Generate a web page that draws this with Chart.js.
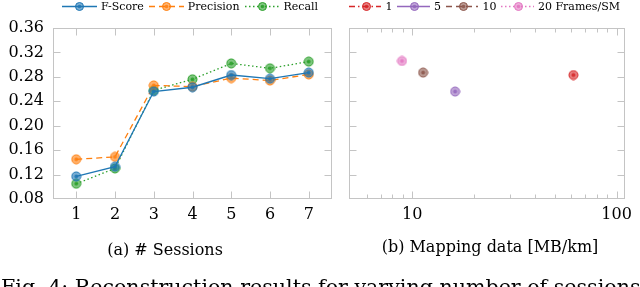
<!DOCTYPE html>
<html><head><meta charset="utf-8">
<script src="https://cdn.jsdelivr.net/npm/chart.js@4"></script>
<style>
html,body{margin:0;padding:0;background:#fff;width:640px;height:287px;overflow:hidden;font-family:"DejaVu Serif",serif;color:#000;}
canvas{position:absolute;top:0}
#c1{left:0}
#c2{left:340px}
.legend{position:absolute;top:0;height:13px;display:flex;justify-content:center;align-items:center;font-size:11px;white-space:nowrap;line-height:13px}
.legend svg{margin-right:4px;display:block}
.legend span{margin-right:5px}
.cap{position:absolute;font-size:16px;line-height:16px;white-space:nowrap;transform:translateX(-50%)}
#fig{position:absolute;left:1px;top:277px;font-size:20.6px;line-height:20px;white-space:nowrap}
</style></head>
<body>
<canvas id="c1" width="340" height="287"></canvas>
<canvas id="c2" width="300" height="287"></canvas>
<div class="legend" id="leg1" style="left:53px;width:279px"></div>
<div class="legend" id="leg2" style="left:349px;width:276px"></div>
<div class="cap" style="left:165px;top:242px">(a) # Sessions</div>
<div class="cap" style="left:490px;top:239px">(b) Mapping data [MB/km]</div>
<div id="fig">Fig. 4: Reconstruction results for varying number of sessions</div>
<script>
// ---- data ----
const sessions = [1, 2, 3, 4, 5, 6, 7];
const fScore    = [0.117, 0.133, 0.256, 0.263, 0.283, 0.277, 0.287];
const precision = [0.145, 0.149, 0.266, 0.264, 0.278, 0.274, 0.284];
const recall    = [0.105, 0.130, 0.258, 0.276, 0.302, 0.294, 0.305];
const seriesNames = ['F-Score', 'Precision', 'Recall'];

const frameLabels = ['1', '5', '10', '20 Frames/SM'];
const mappingData = [61.5, 16.2, 11.3, 8.9];     // MB/km
const mappingScore = [0.283, 0.256, 0.287, 0.306];

const yTicks = [0.08, 0.12, 0.16, 0.20, 0.24, 0.28, 0.32, 0.36];

// ---- styles ----
const leftStyles = [
  {color:'#1f77b4', dash:[]},
  {color:'#ff7f0e', dash:[6,4]},
  {color:'#2ca02c', dash:[1.5,2.5]}
];
const rightStyles = [
  {color:'#d62728', dash:[6,3,1.5,3]},
  {color:'#9467bd', dash:[]},
  {color:'#8c564b', dash:[6,4]},
  {color:'#e377c2', dash:[1.5,2.5]}
];

function rgba(hex, a){
  const n = parseInt(hex.slice(1),16);
  return `rgba(${(n>>16)&255},${(n>>8)&255},${n&255},${a})`;
}
function marker(color){
  const c = document.createElement('canvas');
  c.width = 11; c.height = 11;
  const x = c.getContext('2d');
  x.beginPath(); x.arc(5.5,5.5,4.5,0,Math.PI*2);
  x.fillStyle = rgba(color,0.6); x.fill();
  x.lineWidth = 1; x.strokeStyle = color; x.stroke();
  x.beginPath(); x.arc(5.5,5.5,2,0,Math.PI*2);
  x.fillStyle = rgba(color,0.85); x.fill();
  return c;
}
function legendSvg(st){
  const d = st.dash.length ? `stroke-dasharray="${st.dash.join(' ')}"` : '';
  return `<svg width="35" height="11"><line x1="0" y1="5.5" x2="35" y2="5.5" stroke="${st.color}" stroke-width="1.3" ${d}/>`+
    `<circle cx="17.5" cy="5.5" r="4" fill="${rgba(st.color,0.6)}" stroke="${st.color}" stroke-width="1"/>`+
    `<circle cx="17.5" cy="5.5" r="1.8" fill="${rgba(st.color,0.85)}"/></svg>`;
}
document.getElementById('leg1').innerHTML = seriesNames.map((n,i)=>legendSvg(leftStyles[i])+`<span>${n}</span>`).join('');
document.getElementById('leg2').innerHTML = frameLabels.map((n,i)=>legendSvg(rightStyles[i])+`<span>${n}</span>`).join('');

const FONT = {family:'"DejaVu Serif", serif', size:16};
const FRAME = '#c4c4c4';

// frame + inward ticks, positions from the chart's own scales
const frameTicks = {
  id:'frameTicks',
  afterDatasetsDraw(chart, args, opts){
    const {ctx, chartArea:a, scales} = chart;
    const L = Math.round(a.left)+0.5, R = Math.round(a.right)-0.5, T = Math.round(a.top)+0.5, B = Math.round(a.bottom)-0.5;
    ctx.save();
    ctx.strokeStyle = FRAME; ctx.lineWidth = 1;
    ctx.beginPath();
    scales.x.ticks.forEach(t=>{
      const v = t.value;
      let len = 0;
      if (opts.log) {
        const e = Math.log10(v), sig = v/Math.pow(10,Math.floor(e+1e-9));
        if (Math.abs(sig-Math.round(sig))>1e-6) return;
        len = Math.abs(e-Math.round(e))<1e-9 ? 7 : 4;
      } else {
        if (!Number.isInteger(v)) return;
        len = 7;
      }
      const px = Math.round(scales.x.getPixelForValue(v))+0.5;
      if (px<=L+1 || px>=R-1) return;
      ctx.moveTo(px,B); ctx.lineTo(px,B-len);
      ctx.moveTo(px,T); ctx.lineTo(px,T+len);
    });
    yTicks.forEach(v=>{
      const py = Math.round(scales.y.getPixelForValue(v))+0.5;
      if (py<=T+1 || py>=B-1) return;
      ctx.moveTo(L,py); ctx.lineTo(L+7,py);
      ctx.moveTo(R,py); ctx.lineTo(R-7,py);
    });
    ctx.stroke();
    ctx.strokeRect(L,T,R-L,B-T);
    ctx.restore();
  }
};

const yBase = {
  min:0.08, max:0.36,
  border:{display:false},
  grid:{display:false, drawTicks:false},
  afterBuildTicks(s){ s.ticks = yTicks.map(v=>({value:v})); }
};

new Chart(document.getElementById('c1'), {
  type:'line',
  data:{
    datasets:[fScore,precision,recall].map((arr,i)=>({
      label:seriesNames[i],
      data:sessions.map((s,j)=>({x:s,y:arr[j]})),
      borderColor:leftStyles[i].color,
      borderDash:leftStyles[i].dash,
      borderWidth:1.3,
      pointStyle:marker(leftStyles[i].color),
      pointRadius:4.5,
      tension:0,
      fill:false
    }))
  },
  options:{
    responsive:false, animation:false,
    layout:{padding:{left:0,right:8,top:28,bottom:58}},
    plugins:{legend:{display:false}, tooltip:{enabled:false}, frameTicks:{log:false}},
    scales:{
      x:{type:'linear', min:0.4, max:7.6,
        border:{display:false}, grid:{display:false, drawTicks:false},
        ticks:{stepSize:1, includeBounds:false, font:FONT, color:'#000', padding:6, maxRotation:0,
          callback:v=>Number.isInteger(v)?String(v):''},
        afterFit(s){ s.height = 30; }
      },
      y:Object.assign({}, yBase, {
        ticks:{font:FONT, color:'#000', padding:9, callback:v=>v.toFixed(2)},
        afterFit(s){ s.width = 53; }
      })
    }
  },
  plugins:[frameTicks]
});

new Chart(document.getElementById('c2'), {
  type:'scatter',
  data:{
    datasets:frameLabels.map((n,i)=>({
      label:n,
      data:[{x:mappingData[i], y:mappingScore[i]}],
      borderColor:rightStyles[i].color,
      backgroundColor:rgba(rightStyles[i].color,0.6),
      pointStyle:marker(rightStyles[i].color),
      pointRadius:4.5
    }))
  },
  options:{
    responsive:false, animation:false,
    layout:{padding:{left:0,right:15,top:28,bottom:58}},
    plugins:{legend:{display:false}, tooltip:{enabled:false}, frameTicks:{log:true}},
    scales:{
      x:{type:'logarithmic', min:4.9, max:110,
        border:{display:false}, grid:{display:false, drawTicks:false},
        ticks:{font:FONT, color:'#000', padding:6, autoSkip:false, maxRotation:0,
          callback:v=>(v===10||v===100)?String(v):''},
        afterFit(s){ s.height = 30; }
      },
      y:Object.assign({}, yBase, {
        ticks:{display:false},
        afterFit(s){ s.width = 9; }
      })
    }
  },
  plugins:[frameTicks]
});
</script>
</body></html>
